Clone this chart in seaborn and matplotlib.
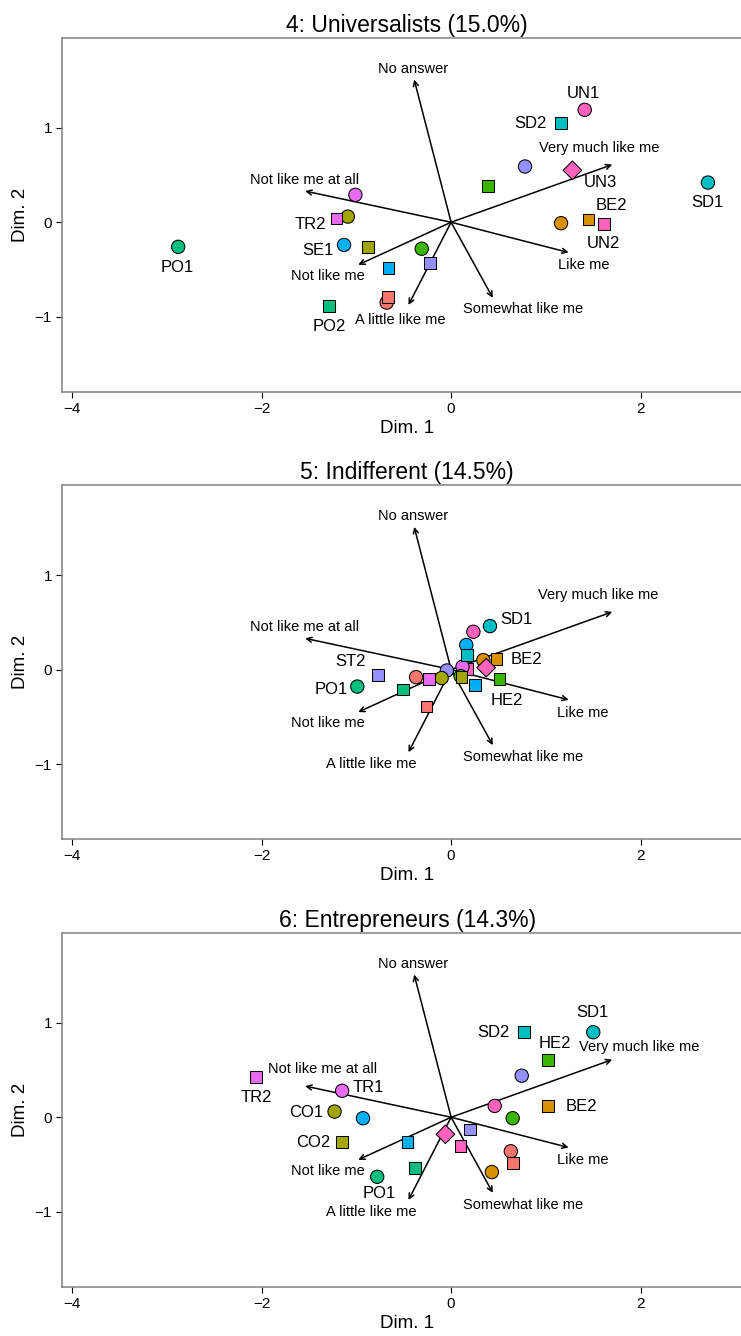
import numpy as np
import pandas as pd
import seaborn as sns
import matplotlib
matplotlib.use("Agg")
import matplotlib.pyplot as plt

sns.set_style("ticks")
plt.rcParams['font.family'] = ['Liberation Sans', 'DejaVu Sans']
plt.rcParams['text.color'] = 'black'
plt.rcParams['axes.labelcolor'] = 'black'
plt.rcParams['xtick.color'] = 'black'
plt.rcParams['ytick.color'] = 'black'

# value items, in questionnaire order
items = ["SD1", "PO1", "UN1", "AC1", "SE1", "ST1", "CO1", "UN2", "TR1", "HE1", "SD2",
         "BE1", "AC2", "SE2", "ST2", "CO2", "PO2", "BE2", "UN3", "TR2", "HE2"]

titles = ["4: Universalists (15.0%)", "5: Indifferent (14.5%)", "6: Entrepreneurs (14.3%)"]

# item coordinates per class
x_univ = [2.71, -2.88, 1.41, -0.68, -1.13, 0.78, -1.09, 1.61, -1.01, -0.31, 1.16,
          1.16, -0.67, -0.66, -0.22, -0.88, -1.29, 1.45, 1.28, -1.21, 0.39]
y_univ = [0.42, -0.26, 1.19, -0.85, -0.24, 0.59, 0.06, -0.02, 0.29, -0.28, 1.05,
          -0.01, -0.79, -0.48, -0.43, -0.26, -0.89, 0.03, 0.55, 0.04, 0.38]

x_indif = [0.41, -0.99, 0.235, -0.37, 0.16, -0.045, -0.10, 0.17, 0.12, 0.10, 0.165,
           0.34, -0.26, 0.25, -0.77, 0.11, -0.51, 0.48, 0.37, -0.23, 0.51]
y_indif = [0.46, -0.18, 0.40, -0.08, 0.26, -0.01, -0.09, 0.01, 0.03, -0.07, 0.15,
           0.10, -0.39, -0.16, -0.06, -0.08, -0.21, 0.11, 0.02, -0.10, -0.10]

x_entre = [1.50, -0.78, 0.46, 0.63, -0.93, 0.745, -1.23, 0.10, -1.15, 0.65, 0.77,
           0.43, 0.65, -0.46, 0.20, -1.15, -0.38, 1.02, -0.06, -2.06, 1.02]
y_entre = [0.90, -0.63, 0.12, -0.36, -0.01, 0.44, 0.06, -0.30, 0.28, -0.01, 0.90,
           -0.58, -0.48, -0.26, -0.13, -0.265, -0.54, 0.12, -0.18, 0.43, 0.61]

# labelled items per class (label positions)
lab_univ = ["UN1", "SD2", "UN3", "BE2", "UN2", "SD1", "TR2", "SE1", "PO1", "PO2"]
lab_univ_x = [1.40, 0.84, 1.58, 1.69, 1.61, 2.70, -1.48, -1.40, -2.89, -1.29]
lab_univ_y = [1.36, 1.05, 0.42, 0.18, -0.23, 0.21, -0.02, -0.30, -0.48, -1.10]

lab_indif = ["SD1", "BE2", "ST2", "PO1", "HE2"]
lab_indif_x = [0.69, 0.80, -1.06, -1.27, 0.59]
lab_indif_y = [0.53, 0.11, 0.08, -0.21, -0.33]

lab_entre = ["SD1", "SD2", "HE2", "BE2", "TR1", "TR2", "CO1", "CO2", "PO1"]
lab_entre_x = [1.49, 0.45, 1.09, 1.37, -0.87, -2.06, -1.53, -1.46, -0.76]
lab_entre_y = [1.11, 0.90, 0.78, 0.11, 0.32, 0.21, 0.05, -0.27, -0.81]

# answer categories (arrows)
cats = ["No answer", "Very much like me", "Not like me at all", "Like me",
        "Not like me", "Somewhat like me", "A little like me"]
cat_x = [-0.39, 1.70, -1.54, 1.24, -0.98, 0.44, -0.45]
cat_y = [1.51, 0.61, 0.33, -0.32, -0.45, -0.80, -0.875]

cat_lab_x = [[-0.40, 1.56, -1.55, 1.40, -1.30, 0.76, -0.54],
             [-0.40, 1.55, -1.55, 1.39, -1.30, 0.76, -0.84],
             [-0.40, 1.98, -1.36, 1.39, -1.30, 0.76, -0.84]]
cat_lab_y = [[1.62, 0.79, 0.45, -0.45, -0.57, -0.92, -1.03],
             [1.62, 0.79, 0.45, -0.46, -0.57, -0.92, -1.00],
             [1.62, 0.74, 0.51, -0.45, -0.565, -0.93, -1.00]]

values = ["AC", "BE", "CO", "HE", "PO", "SD", "SE", "ST", "TR", "UN"]
colors = ["#F8766D", "#D89000", "#A3A500", "#39B600", "#00BF7D",
          "#00BFC4", "#00B0F6", "#9590FF", "#E76BF3", "#FF62BC"]
palette = dict(zip(values, colors))

panels = [(x_univ, y_univ, lab_univ, lab_univ_x, lab_univ_y),
          (x_indif, y_indif, lab_indif, lab_indif_x, lab_indif_y),
          (x_entre, y_entre, lab_entre, lab_entre_x, lab_entre_y)]

W, H = 741, 1336
fig = plt.figure(figsize=(W / 100, H / 100), dpi=100)

left_px, right_px = 62.3, 752
bottoms_px = [391.7, 839.0, 1286.7]
h_px = 354

for i, (xs, ys, labs, lx, ly) in enumerate(panels):
    ax = fig.add_axes([left_px / W, 1 - bottoms_px[i] / H,
                       (right_px - left_px) / W, h_px / H])
    df = pd.DataFrame({"x": xs, "y": ys, "item": items})
    df["value"] = df["item"].str[:2]
    df["num"] = df["item"].str[2]

    for c, tx, ty in zip(cats, cat_x, cat_y):
        ax.annotate("", xy=(tx, ty), xytext=(0, 0), zorder=1.5,
                    arrowprops=dict(arrowstyle="->", lw=1.1, color="black",
                                    mutation_scale=9, shrinkA=0, shrinkB=0))
    for c, tx, ty in zip(cats, cat_lab_x[i], cat_lab_y[i]):
        ax.text(tx, ty, c, fontsize=10.5, ha="center", va="center", zorder=3)

    sns.scatterplot(data=df, x="x", y="y", hue="value", style="num", size="num",
                    palette=palette, markers={"1": "o", "2": "s", "3": "D"},
                    sizes={"1": 92, "2": 72, "3": 90}, edgecolor="black",
                    linewidth=0.75, legend=False, ax=ax, zorder=2)

    for t, tx, ty in zip(labs, lx, ly):
        ax.text(tx, ty, t, fontsize=12, ha="center", va="center", zorder=3)

    ax.set_xlim(-4.103, (right_px - 451) / 94.8)
    ax.set_ylim(-1.793, 1.953)
    ax.set_xticks([-4, -2, 0, 2])
    ax.set_yticks([-1, 0, 1])
    ax.tick_params(length=4.5, width=0.8, color="black", labelsize=11, pad=3)
    for name in ["left", "right", "top", "bottom"]:
        ax.spines[name].set_color("#808080")
        ax.spines[name].set_linewidth(1.1)
    ax.set_title(titles[i], fontsize=16.5, pad=4)
    ax.set_xlabel("Dim. 1", fontsize=13.5)
    ax.set_ylabel("Dim. 2", fontsize=13.5)
    ax.xaxis.set_label_coords(0.5, -0.08)
    ax.yaxis.set_label_coords(-0.049, 0.5)

fig.savefig("out.png", dpi=100)
